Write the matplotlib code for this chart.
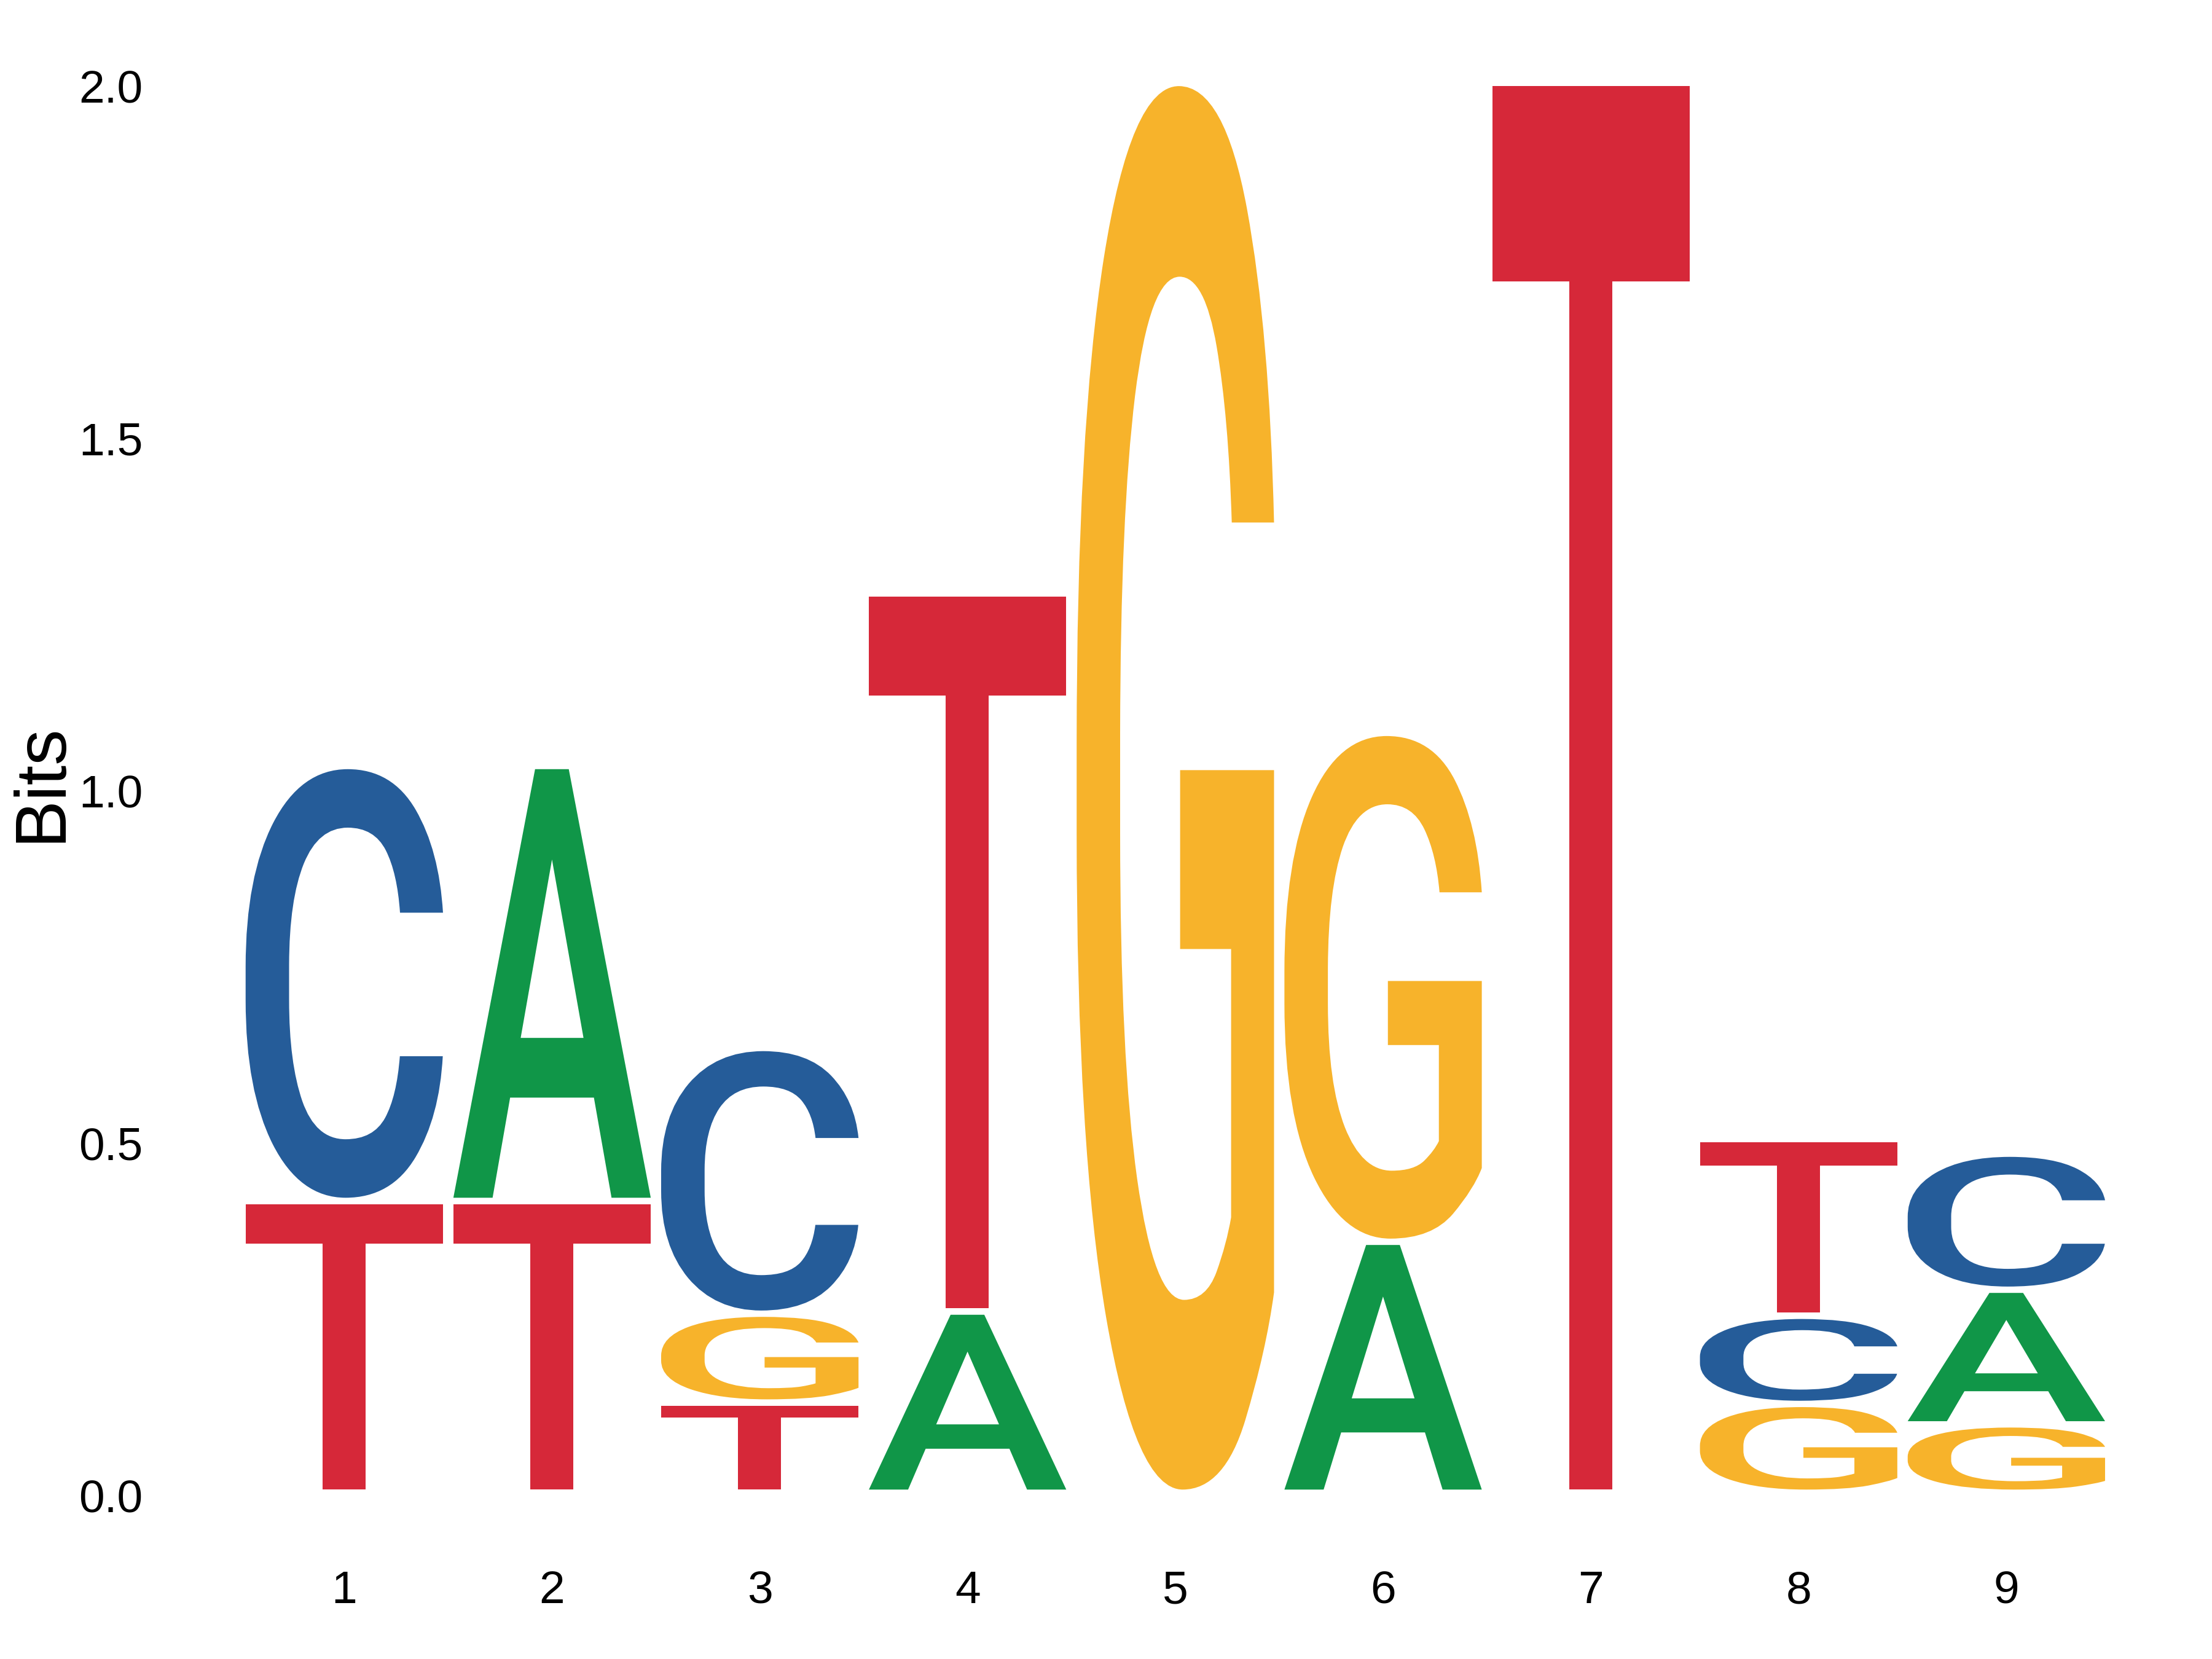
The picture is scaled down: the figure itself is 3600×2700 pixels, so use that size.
import matplotlib
matplotlib.use("Agg")
import matplotlib.pyplot as plt
from matplotlib.font_manager import FontProperties
from matplotlib.textpath import TextPath
from matplotlib.patches import PathPatch
from matplotlib.transforms import Affine2D

# sequence logo, bottom to top in each column
positions = [1, 2, 3, 4, 5, 6, 7, 8, 9]
stack_letters = [
    ["T", "C"],
    ["T", "A"],
    ["T", "G", "C"],
    ["A", "T"],
    ["G"],
    ["A", "G"],
    ["T"],
    ["G", "C", "T"],
    ["G", "A", "C"],
]
stack_bits = [
    [0.414, 0.617],
    [0.414, 0.617],
    [0.128, 0.126, 0.377],
    [0.257, 1.019],
    [2.0],
    [0.356, 0.722],
    [2.0],
    [0.126, 0.125, 0.251],
    [0.097, 0.191, 0.193],
]
base_colors = {"A": "#109648", "C": "#255C99", "G": "#F7B32B", "T": "#D62839"}

yticks = [0.0, 0.5, 1.0, 1.5, 2.0]
ylabel = "Bits"

logo_font = FontProperties(family="Roboto", weight="medium")
letter_width = 0.95
gap = 0.009

fig = plt.figure(figsize=(12, 9), dpi=300)
ax = fig.add_axes([0.0993, 0.0983, 0.9634 - 0.0993, 0.9481 - 0.0983])


def draw_letter(ax, letter, x, y0, y1, color):
    tp = TextPath((0, 0), letter, size=1, prop=logo_font)
    ext = tp.get_extents()
    tr = (Affine2D()
          .translate(-ext.x0, -ext.y0)
          .scale(letter_width / ext.width, (y1 - y0) / ext.height)
          .translate(x - letter_width / 2, y0))
    ax.add_patch(PathPatch(tr.transform_path(tp), facecolor=color,
                           edgecolor="none", lw=0, clip_on=False))


for x, letters, bits in zip(positions, stack_letters, stack_bits):
    base = 0.0
    for letter, h in zip(letters, bits):
        draw_letter(ax, letter, x, base + gap, base + h, base_colors[letter])
        base += h

ax.set_xlim(0.4, 9.6)
ax.set_ylim(0, 2.0)
ax.set_xticks(positions)
ax.set_xticklabels([str(p) for p in positions], fontsize=18, family="Liberation Sans")
ax.set_yticks(yticks)
ax.set_yticklabels([f"{v:.1f}" for v in yticks], fontsize=18, family="Liberation Sans")
ax.tick_params(axis="x", length=0, pad=29)
ax.tick_params(axis="y", length=0, pad=30)
for s in ax.spines.values():
    s.set_visible(False)

ax.set_ylabel(ylabel, fontsize=28, family="Liberation Sans", va="center")
ax.yaxis.set_label_coords(-0.0931, 0.506)

plt.savefig("out.png", dpi=300)
